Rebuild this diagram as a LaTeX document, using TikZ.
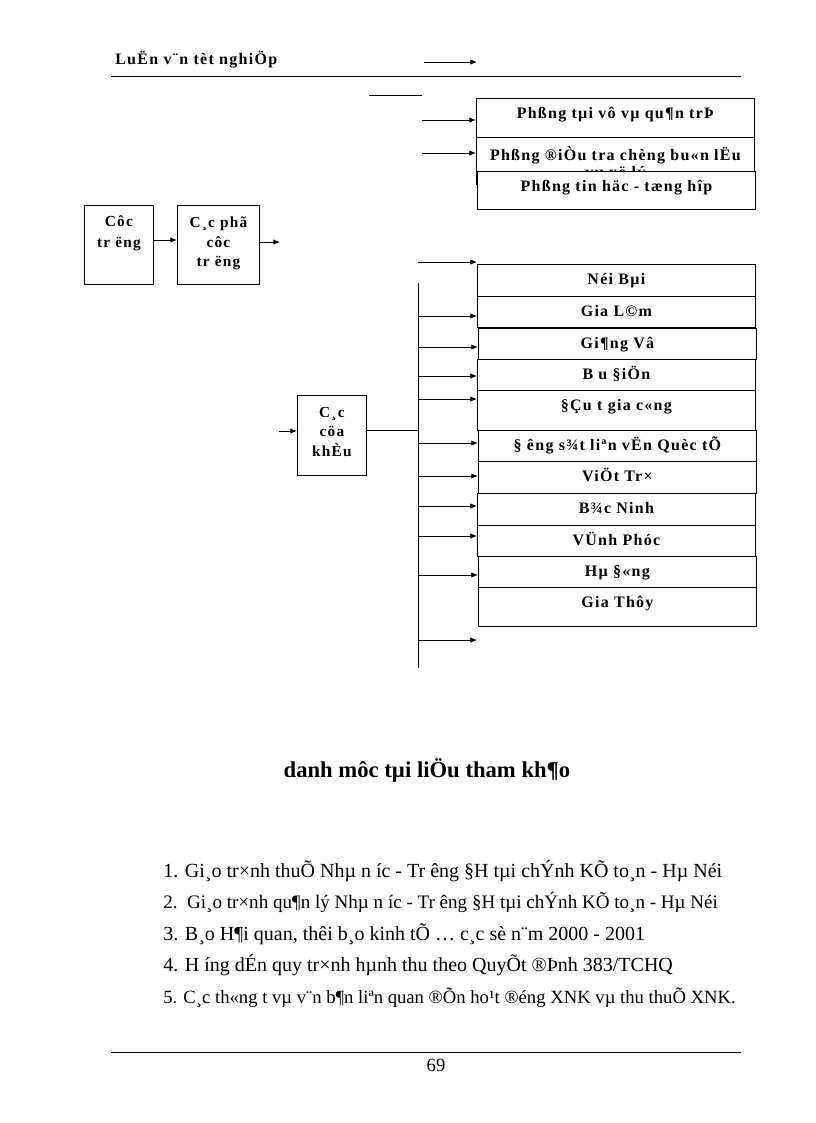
\documentclass[tikz,border=0pt]{standalone}
\usepackage{fontspec}
\setmainfont{Liberation Serif}
\newfontfamily\spacedfont[LetterSpace=8]{Liberation Serif}
\usetikzlibrary{arrows.meta}

\tikzset{
  arr/.style={-{Latex[length=5pt,width=4pt]}, line width=0.6pt},
  pline/.style={line width=0.6pt},
  cellbox/.style={draw, fill=white, line width=0.6pt, inner sep=0pt, anchor=north west,
    minimum width=208.5pt, font=\spacedfont\bfseries\fontsize{12pt}{14pt}\selectfont,
    text height=15pt, text depth=#1},
  unitbox/.style={draw, fill=white, line width=0.6pt, inner sep=0pt, anchor=north west},
  unittext/.style={anchor=north, align=center, inner sep=0pt,
    font=\spacedfont\bfseries\fontsize{11.5pt}{14.5pt}\selectfont},
  reftext/.style={anchor=base west, inner sep=0pt, font=\fontsize{#1}{18pt}\selectfont},
}

\begin{document}
\begin{tikzpicture}[x=0.75pt,y=0.75pt,yscale=-1]
\useasboundingbox (0,0) rectangle (816,1123);

%Header
\node [anchor=base west, inner sep=0pt, font=\spacedfont\bfseries\fontsize{12pt}{14pt}\selectfont] (head) at (115,65) {LuËn v¨n tèt nghiÖp};
\coordinate (hl) at (111,76);
\coordinate (hr) at (741,76);
\draw [pline] (hl) -- (hr);
\coordinate (ha) at (424,62);
\coordinate (hb) at (477,62);
\draw [arr] (ha) -- (hb);
\coordinate (sa) at (369,95);
\coordinate (sb) at (422,95);
\draw [pline] (sa) -- (sb);

%Top boxes
\node [cellbox=14.25pt] (phtv) at (476,98) {Phßng tµi vô vµ qu¶n trÞ};
\node [unitbox, minimum width=208.5pt, minimum height=35.25pt] (phdt) at (476,137) {};
\node [unittext, font=\spacedfont\bfseries\fontsize{12pt}{12.75pt}\selectfont] (phdt-t) at ([yshift=7pt]phdt.north) {Phßng ®iÒu tra chèng bu«n lËu\\vµ xö lý};
\node [cellbox=13.5pt] (phth) at (477,171) {Phßng tin häc - tæng hîp};
\coordinate (ta1) at (422,120);
\coordinate (ta2) at (422,153);
\draw [arr] (ta1) -- (ta1 -| phtv.west);
\draw [arr] (ta2) -- (ta2 -| phdt.west);

%Left chain
\node [unitbox, minimum width=51.75pt, minimum height=59.25pt] (ct) at (84,205) {};
\node [unittext, font=\spacedfont\bfseries\fontsize{11.5pt}{15.75pt}\selectfont] (ct-t) at ([yshift=8pt]ct.north) {Côc\\tr ëng};
\node [unitbox, minimum width=61.5pt, minimum height=59.25pt] (cp) at (177,205) {};
\node [unittext] (cp-t) at ([yshift=9pt]cp.north) {C¸c phã\\côc\\tr ëng};
\draw [arr] (ct.east |- 0,240) -- (cp.west |- 0,240);
\coordinate (cpo) at (280,242);
\draw [arr] (cp.east |- cpo) -- (cpo);

%Border gates
\node [unitbox, minimum width=51.75pt, minimum height=60pt] (cck) at (297,395) {};
\node [unittext] (cck-t) at ([yshift=9pt]cck.north) {C¸c\\cöa\\khÈu};
\coordinate (cin) at (279,431);
\draw [arr] (cin) -- (cin -| cck.west);
\coordinate (bustop) at (418,283);
\coordinate (busbot) at (418,668);
\draw [pline] (bustop) -- (busbot);
\draw [pline] (cck.east |- 0,430) -- (bustop |- 0,430);

%Column of units
\node [cellbox=9pt] (nb) at (477,264) {Néi Bµi};
\node [cellbox=8.25pt] (gl) at (477,296) {Gia L©m};
\node [cellbox=8.25pt] (gv) at (478,328) {Gi¶ng Vâ};
\node [cellbox=8.25pt] (bd) at (477,359) {B u §iÖn};
\node [cellbox=15pt] (dt) at (477,390) {§Çu t  gia c«ng};
\node [cellbox=8.25pt] (ds) at (478,430) {§ êng s¾t liªn vËn Quèc tÕ};
\node [cellbox=9pt] (vt) at (478,461) {ViÖt Tr×};
\node [cellbox=9pt] (bn) at (477,493) {B¾c Ninh};
\node [cellbox=8.25pt] (vp) at (477,525) {VÜnh Phóc};
\node [cellbox=8.25pt] (hd) at (478,556) {Hµ §«ng};
\node [cellbox=14.25pt] (gt) at (478,587) {Gia Thôy};

\coordinate (tap0) at (418,262);
\draw [arr] (tap0) -- (tap0 -| nb.west);
\foreach \y/\b [count=\i] in {316/gl,347/gv,376/bd,399/dt,443/ds,476/vt,506/bn,536/vp,575/hd,640/nb}{
  \coordinate (tap\i) at (bustop |- 0,\y);
  \draw [arr] (tap\i) -- (tap\i -| \b.west);
}

%References
\node [font=\bfseries\fontsize{17pt}{20pt}\selectfont] (title) at (427,770) {danh môc tµi liÖu tham kh¶o};
\node [reftext=15pt] (ref1) at (163,877) {1. Gi¸o tr×nh thuÕ Nhµ n íc - Tr êng §H tµi chÝnh KÕ to¸n - Hµ Néi};
\node [reftext=14.3pt] (ref2) at (163,908) {2.\ \ Gi¸o tr×nh qu¶n lý Nhµ n íc - Tr êng §H tµi chÝnh KÕ to¸n - Hµ Néi};
\node [reftext=15pt] (ref3) at (163,940) {3. B¸o H¶i quan, thêi b¸o kinh tÕ … c¸c sè n¨m 2000 - 2001};
\node [reftext=15pt] (ref4) at (163,971) {4. H íng dÉn quy tr×nh hµnh thu theo QuyÕt ®Þnh 383/TCHQ};
\node [reftext=14pt] (ref5) at (163,1003) {5. C¸c th«ng t  vµ v¨n b¶n liªn quan ®Õn ho¹t ®éng XNK vµ thu thuÕ XNK.};

%Footer
\coordinate (fl) at (111,1052);
\coordinate (fr) at (741,1052);
\draw [pline] (fl) -- (fr);
\node [font=\fontsize{14pt}{16pt}\selectfont] (pageno) at (436,1065) {69};
\end{tikzpicture}
\end{document}
